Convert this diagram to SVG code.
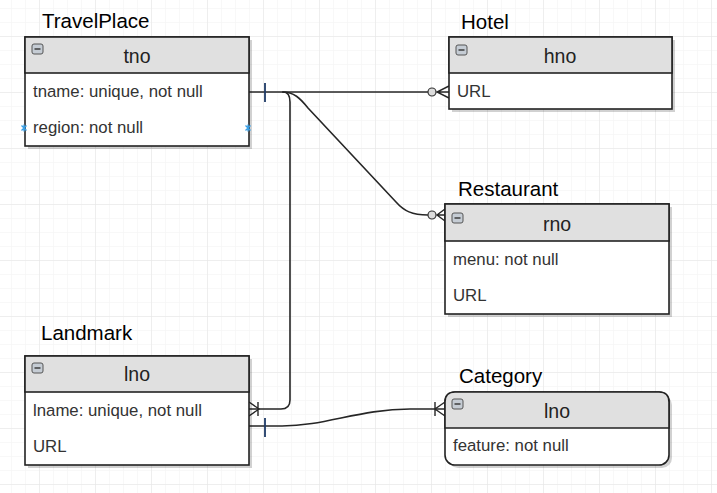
<svg xmlns="http://www.w3.org/2000/svg" width="717" height="493" viewBox="0 0 717 493">
<style>
.title{font-family:"Liberation Sans",Arial,sans-serif;font-size:20.5px;fill:#000}
.hdr{font-family:"Liberation Sans",Arial,sans-serif;font-size:19.5px;fill:#222;text-anchor:middle}
.row{font-family:"Liberation Sans",Arial,sans-serif;font-size:16.8px;fill:#333}
.box{fill:#fff;stroke:#222;stroke-width:1.6}
.head{fill:#e0e0e0;stroke:#222;stroke-width:1.6}
.shadow{fill:#000;opacity:0.18}
.icon{fill:#c5ccd4;stroke:#555;stroke-width:1}
.iconbar{stroke:#333;stroke-width:1.4}
.edge{fill:none;stroke:#262626;stroke-width:1.6}
.tick{stroke:#1e3a66;stroke-width:1.8}
.crow{fill:none;stroke:#262626;stroke-width:1.4}
.circ{fill:#dcdcdc;stroke:#333;stroke-width:1.2}
.pt{stroke:#3aa0e6;stroke-width:1.3}
</style>
<defs>
<pattern id="minor" x="39" y="36" width="14" height="14" patternUnits="userSpaceOnUse">
<path d="M0 0V14M0 0H14" fill="none" stroke="#f2f2f2" stroke-width="1"/>
</pattern>
<pattern id="major" x="39" y="36" width="56" height="56" patternUnits="userSpaceOnUse">
<path d="M0 0V56M0 0H56" fill="none" stroke="#e4e4e4" stroke-width="1"/>
</pattern>
<g id="minus">
<rect class="icon" x="0" y="0" width="11" height="10" rx="2"/>
<path class="iconbar" d="M2.5 5H8.5"/>
</g>
</defs>
<rect width="717" height="493" fill="#fff"/>
<rect width="717" height="493" fill="url(#minor)"/>
<rect width="717" height="493" fill="url(#major)"/>

<g id="connectors">
<!-- TravelPlace - Hotel -->
<path class="edge" d="M249 92H428"/>
<path class="tick" d="M265 83V102"/>
<circle class="circ" cx="432" cy="92" r="4"/>
<path class="crow" d="M449 86L437 92L449 98M437 92H449"/>
<!-- TravelPlace - Restaurant -->
<path class="edge" d="M282 92C294 92 300 98 308 108L396 202C404 211 412 215 428 215"/>
<circle class="circ" cx="432" cy="215" r="4"/>
<path class="crow" d="M445 209L437 215L445 221M437 215H445"/>
<!-- TravelPlace - Landmark -->
<path class="edge" d="M283 92C288 92 290 96 290 102V400C290 406 287 409 281 409H249"/>
<path class="crow" d="M249 402L259 409L249 416M258 402V416"/>
<!-- Landmark - Category -->
<path class="edge" d="M249 426H282C325 426 360 409 410 409H445"/>
<path class="tick" d="M265 418V437"/>
<path class="crow" d="M435 402V416M445 402L435 409L445 416"/>
</g>

<g id="TravelPlace">
<text class="title" x="42" y="28">TravelPlace</text>
<rect class="shadow" x="28" y="40" width="224" height="109"/>
<rect class="box" x="25" y="37" width="224" height="109"/>
<rect class="head" x="25" y="37" width="224" height="36"/>
<use href="#minus" x="32" y="44"/>
<text class="hdr" x="137" y="63">tno</text>
<text class="row" x="33" y="97">tname: unique, not null</text>
<text class="row" x="33" y="133">region: not null</text>
<path class="pt" d="M21.5 125.5L26.5 130.5M26.5 125.5L21.5 130.5M24 124.5V131.5"/>
<path class="pt" d="M245.5 125.5L250.5 130.5M250.5 125.5L245.5 130.5M248 124.5V131.5"/>
</g>

<g id="Hotel">
<text class="title" x="461" y="29">Hotel</text>
<rect class="shadow" x="452" y="40" width="223" height="72"/>
<rect class="box" x="449" y="37" width="223" height="72"/>
<rect class="head" x="449" y="37" width="223" height="36"/>
<use href="#minus" x="456" y="45"/>
<text class="hdr" x="560" y="63">hno</text>
<text class="row" x="457" y="97">URL</text>
</g>

<g id="Restaurant">
<text class="title" x="458" y="196">Restaurant</text>
<rect class="shadow" x="448" y="207" width="224" height="110"/>
<rect class="box" x="445" y="204" width="224" height="110"/>
<rect class="head" x="445" y="204" width="224" height="37"/>
<use href="#minus" x="452" y="213"/>
<text class="hdr" x="557" y="231">rno</text>
<text class="row" x="453" y="265">menu: not null</text>
<text class="row" x="453" y="301">URL</text>
</g>

<g id="Landmark">
<text class="title" x="41" y="340">Landmark</text>
<rect class="shadow" x="28" y="359" width="224" height="109"/>
<rect class="box" x="25" y="356" width="224" height="109"/>
<rect class="head" x="25" y="356" width="224" height="36"/>
<use href="#minus" x="32" y="363"/>
<text class="hdr" x="137" y="381">lno</text>
<text class="row" x="33" y="416">lname: unique, not null</text>
<text class="row" x="33" y="452">URL</text>
</g>

<g id="Category">
<text class="title" x="459" y="383">Category</text>
<rect class="shadow" x="448" y="395" width="224" height="73" rx="10"/>
<rect class="box" x="445" y="392" width="224" height="73" rx="10"/>
<path class="head" d="M445 428V402Q445 392 455 392H659Q669 392 669 402V428Z"/>
<use href="#minus" x="452" y="399"/>
<text class="hdr" x="557" y="418">lno</text>
<text class="row" x="453" y="451">feature: not null</text>
</g>
</svg>
